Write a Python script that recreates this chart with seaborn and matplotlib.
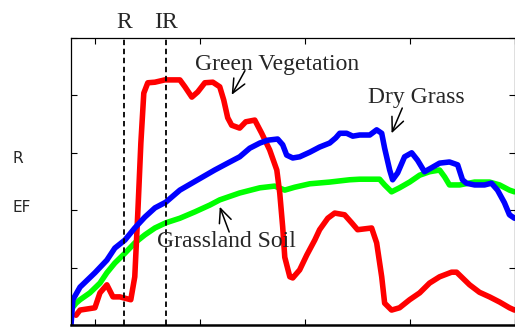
import pandas as pd
from matplotlib import pyplot as plt
import seaborn as sns

# Spectral reflectance curves (wavelength in nm, reflectance in %)
veg_nm = [410, 429, 500, 524, 557, 586, 619, 671, 690, 705, 719, 733, 752, 786, 833, 905,
          929, 962, 990, 1024, 1062, 1095, 1114, 1133, 1152, 1190, 1219, 1262, 1295, 1333,
          1367, 1381, 1395, 1405, 1429, 1443, 1476, 1510, 1548, 1571, 1610, 1643, 1690,
          1724, 1752, 1819, 1843, 1867, 1881, 1914, 1952, 2000, 2048, 2095, 2143, 2200,
          2224, 2286, 2333, 2381, 2429, 2476, 2500]
veg_ref = [1.7, 2.6, 3.0, 5.6, 7.0, 4.9, 4.9, 4.4, 8.4, 20.0, 31.7, 40.4, 42.2, 42.3, 42.7, 42.7,
           41.5, 39.7, 40.6, 42.2, 42.3, 41.5, 39.2, 36.1, 34.8, 34.3, 35.4, 35.7, 33.4, 30.5,
           27.0, 23.0, 17.1, 11.8, 8.4, 8.2, 9.6, 12.2, 14.8, 16.6, 18.6, 19.5, 19.2,
           17.8, 16.6, 16.9, 14.3, 8.4, 3.8, 2.6, 3.0, 4.4, 5.6, 7.3, 8.4, 9.2,
           9.2, 7.0, 5.7, 4.9, 4.0, 3.0, 2.6]

grass_nm = [386, 395, 429, 500, 557, 595, 643, 690, 738, 786, 838, 905, 976, 1071, 1143, 1190,
            1238, 1286, 1324, 1371, 1395, 1414, 1443, 1476, 1524, 1571, 1619, 1648, 1667,
            1700, 1729, 1762, 1810, 1843, 1867, 1881, 1905, 1919, 1943, 1976, 2010, 2038,
            2071, 2105, 2143, 2190, 2229, 2252, 2271, 2310, 2357, 2390, 2419, 2452, 2476, 2500]
grass_ref = [0.0, 4.4, 6.6, 9.1, 11.3, 13.4, 14.8, 16.9, 18.8, 20.4, 21.4, 23.5, 25.0, 27.0, 28.4, 29.3,
             30.8, 31.7, 32.2, 32.4, 31.4, 29.6, 29.1, 29.3, 30.1, 31.0, 31.7, 32.6, 33.4,
             33.4, 32.9, 33.1, 33.1, 34.0, 33.4, 30.8, 27.0, 25.3, 26.5, 29.3, 30.0, 28.7,
             26.7, 27.4, 28.2, 28.4, 27.9, 25.3, 24.7, 24.4, 24.4, 24.7, 23.5, 21.3, 19.2, 18.6]

soil_nm = [395, 410, 429, 476, 524, 557, 595, 643, 690, 738, 786, 838, 905, 976, 1048, 1095,
           1190, 1286, 1357, 1405, 1452, 1524, 1619, 1714, 1762, 1857, 1881, 1914, 1952,
           2000, 2048, 2095, 2143, 2167, 2190, 2238, 2310, 2381, 2429, 2476, 2500]
soil_ref = [3.1, 3.8, 4.4, 5.6, 7.3, 9.1, 10.8, 12.5, 14.3, 15.7, 16.9, 17.8, 18.6, 19.7, 20.9, 21.8,
            23.0, 23.9, 24.2, 23.5, 24.0, 24.6, 24.9, 25.3, 25.4, 25.4, 24.4, 23.2, 23.9,
            24.9, 26.1, 26.7, 27.0, 25.8, 24.4, 24.4, 24.9, 24.9, 24.4, 23.5, 23.2]

red_band = 640
nir_band = 840

df = pd.concat([
    pd.DataFrame({"nm": veg_nm, "ref": veg_ref, "cover": "Green Vegetation"}),
    pd.DataFrame({"nm": grass_nm, "ref": grass_ref, "cover": "Dry Grass"}),
    pd.DataFrame({"nm": soil_nm, "ref": soil_ref, "cover": "Grassland Soil"}),
])

sns.set_style("white")
plt.rcParams['xtick.direction'] = 'in'
plt.rcParams['ytick.direction'] = 'in'
plt.rcParams['lines.solid_joinstyle'] = 'round'
plt.rcParams['lines.solid_capstyle'] = 'round'
serif = ['Liberation Serif', 'DejaVu Serif']

fig = plt.figure(figsize=(5.15, 3.29), dpi=100)
ax = fig.add_axes([71 / 515, 4 / 329, 443.5 / 515, 287 / 329])

sns.lineplot(data=df, x="nm", y="ref", hue="cover", sort=False, estimator=None,
             palette={"Green Vegetation": "#ff0000", "Dry Grass": "#0000ff", "Grassland Soil": "#00ff00"},
             hue_order=["Grassland Soil", "Green Vegetation", "Dry Grass"],
             linewidth=4, legend=False, ax=ax)

ax.axvline(red_band, color="black", lw=1.3, ls=(0, (3, 2)))
ax.axvline(nir_band, color="black", lw=1.3, ls=(0, (3, 2)))

ax.set_xlim(386, 2500)
ax.set_ylim(0, 50)
ax.set_xticks([500, 1000, 1500, 2000, 2500])
ax.set_yticks([0, 10, 20, 30, 40, 50])
ax.set_xticklabels([])
ax.set_yticklabels([])
ax.set_xlabel("")
ax.set_ylabel("")
ax.tick_params(top=True, right=True, bottom=True, left=True, length=4.5, width=0.8, color="black")
for s in ax.spines.values():
    s.set_color("black")
    s.set_linewidth(0.9)
ax.spines['bottom'].set_linewidth(1.8)

tx = ax.get_xaxis_transform()
ax.text(red_band, 1.035, "R", transform=tx, ha="center", va="baseline", fontsize=17, family=serif)
ax.text(nir_band, 1.035, "IR", transform=tx, ha="center", va="baseline", fontsize=17, family=serif)

ax.text(976, 44.4, "Green Vegetation", ha="left", va="baseline", fontsize=17, family=serif)
ax.text(1800, 38.7, "Dry Grass", ha="left", va="baseline", fontsize=17, family=serif)
ax.text(795, 13.6, "Grassland Soil", ha="left", va="baseline", fontsize=17, family=serif)

arw = dict(arrowstyle="->, head_length=1.0, head_width=0.45", color="black", lw=1.1, shrinkA=0, shrinkB=0)
ax.annotate("", xy=(1152, 40.1), xytext=(1215, 44.3), arrowprops=arw)
ax.annotate("", xy=(1914, 33.4), xytext=(1965, 37.8), arrowprops=arw)
ax.annotate("", xy=(1095, 20.6), xytext=(1140, 16.2), arrowprops=arw)

fig.text(12 / 515, 1 - 163 / 329, "R", fontsize=11, family="DejaVu Sans")
fig.text(12 / 515, 1 - 212 / 329, "EF", fontsize=11, family="DejaVu Sans")

fig.savefig("out.png", dpi=100)
